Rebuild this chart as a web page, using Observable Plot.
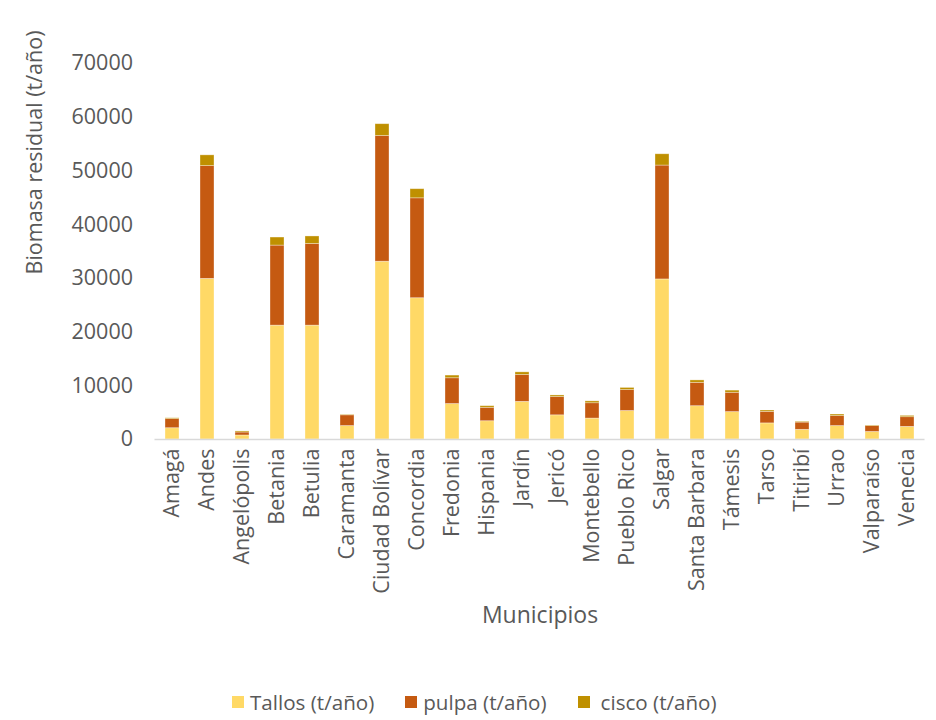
<!DOCTYPE html>
<html>
<head>
<meta charset="utf-8">
<script src="https://cdn.jsdelivr.net/npm/d3@7"></script>
<script src="https://cdn.jsdelivr.net/npm/@observablehq/plot@0.6"></script>
<style>
  html, body { margin: 0; padding: 0; background: #fff; }
  #chart { position: relative; width: 936px; height: 720px; font-family: "Open Sans", sans-serif; }
  #legend { position: absolute; left: 232px; top: 688px; display: flex; align-items: center;
            font-size: 20.6px; color: #595959; white-space: nowrap; }
  #legend .item { display: flex; align-items: center; }
  #legend .sw { width: 12px; height: 12px; margin-right: 6px; }
</style>
</head>
<body>
<div id="chart"></div>
<script>
// Residual coffee biomass by municipality (t/año)
const municipios = ["Amagá", "Andes", "Angelópolis", "Betania", "Betulia", "Caramanta",
  "Ciudad Bolívar", "Concordia", "Fredonia", "Hispania", "Jardín", "Jericó", "Montebello",
  "Pueblo Rico", "Salgar", "Santa Barbara", "Támesis", "Tarso", "Titiribí", "Urrao",
  "Valparaíso", "Venecia"];
const tallos = [2100, 29900, 750, 21200, 21200, 2500, 33100, 26300, 6600, 3400, 7000, 4500,
  3900, 5300, 29800, 6200, 5100, 3000, 1800, 2500, 1400, 2350];
const pulpa = [1700, 21000, 550, 14900, 15200, 2000, 23400, 18600, 4800, 2500, 5000, 3400,
  2850, 3900, 21200, 4350, 3600, 2150, 1350, 1850, 1100, 1800];
const cisco = [150, 2000, 200, 1500, 1400, 100, 2200, 1700, 500, 300, 500, 300,
  350, 400, 2100, 450, 400, 250, 150, 300, 100, 250];
const series = ["Tallos (t/año)", "pulpa (t/año)", "cisco (t/año)"];
const colores = ["#FFD966", "#C55A11", "#BF9000"];
const yTicks = [0, 10000, 20000, 30000, 40000, 50000, 60000, 70000];

const data = [];
municipios.forEach((m, i) => {
  data.push({municipio: m, serie: series[0], valor: tallos[i]});
  data.push({municipio: m, serie: series[1], valor: pulpa[i]});
  data.push({municipio: m, serie: series[2], valor: cisco[i]});
});

const textColor = "#595959";

const chart = Plot.plot({
  width: 936,
  height: 680,
  marginLeft: 154.5,
  marginRight: 11.5,
  marginTop: 63,
  marginBottom: 241,
  style: {fontFamily: "Open Sans, sans-serif", fontSize: "21px", color: textColor, background: "#fff"},
  x: {type: "band", domain: municipios, paddingInner: 0.6, paddingOuter: 0.3, label: null},
  y: {domain: [0, 70000], label: null},
  color: {domain: series, range: colores},
  marks: [
    Plot.axisY({ticks: yTicks, tickSize: 0, tickPadding: 22, tickFormat: d => String(d),
      fontSize: 21.5, label: null}),
    Plot.axisX({tickSize: 0, tickPadding: 9, tickRotate: -90, fontSize: 21.5, label: null}),
    Plot.barY(data, {x: "municipio", y: "valor", fill: "serie",
      stroke: "#ffffff", strokeOpacity: 0.45, strokeWidth: 0.75}),
    Plot.ruleY([0], {stroke: "#d9d9d9", strokeWidth: 1.5}),
    Plot.text(["Biomasa residual (t/año)"], {frameAnchor: "left", textAnchor: "middle",
      dx: -119.5, dy: -99, rotate: -90, fontSize: 21.5, fill: textColor}),
    Plot.text(["Municipios"], {frameAnchor: "bottom", dy: 183, fontSize: 23, fill: textColor})
  ]
});

const root = document.getElementById("chart");
root.appendChild(chart);

// Legend below the plot
const legend = document.createElement("div");
legend.id = "legend";
const gaps = [31, 31, 0];
series.forEach((s, i) => {
  const item = document.createElement("div");
  item.className = "item";
  item.style.marginRight = gaps[i] + "px";
  const sw = document.createElement("span");
  sw.className = "sw";
  sw.style.background = colores[i];
  if (i === 2) sw.style.marginRight = "11px";
  const label = document.createElement("span");
  label.textContent = s;
  item.appendChild(sw);
  item.appendChild(label);
  legend.appendChild(item);
});
root.appendChild(legend);
</script>
</body>
</html>
